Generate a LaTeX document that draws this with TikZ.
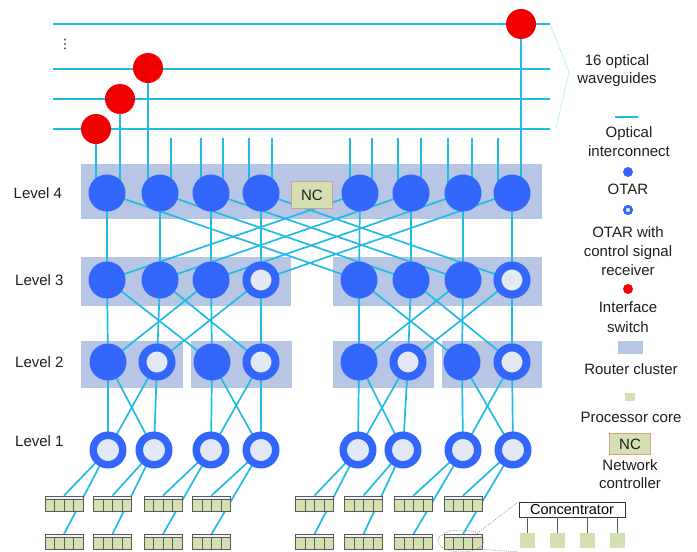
\documentclass[tikz,border=0pt]{standalone}
\usepackage{fontspec}
\setmainfont{Liberation Sans}
\newfontfamily\symfont{DejaVu Sans}
\usetikzlibrary{calc,shapes.geometric}
\definecolor{wirec}{HTML}{22BBE6}
\definecolor{otarb}{HTML}{3366FA}
\definecolor{ringin}{HTML}{E3E8F5}
\definecolor{clusc}{HTML}{B6C6E4}
\definecolor{redsw}{HTML}{F20000}
\definecolor{coreg}{HTML}{D5E0B2}
\definecolor{ncbd}{HTML}{D8A08C}
\definecolor{txt}{HTML}{1E1E1E}
\definecolor{bkgray}{HTML}{5A5A5A}
\definecolor{stripc}{HTML}{F4F4F4}
\pgfdeclarelayer{clusl}
\pgfdeclarelayer{wiresl}
\pgfsetlayers{clusl,wiresl,main}
\tikzset{
  wire/.style={draw=wirec, line width=1.7pt},
  guide/.style={draw=wirec, line width=2.8pt},
  otar/.style={circle, fill=otarb, minimum size=37pt, inner sep=0pt},
  otarr/.style={circle, draw=otarb, fill=ringin, line width=8pt, minimum size=29pt, inner sep=0pt},
  iswitch/.style={circle, fill=redsw, minimum size=30pt, inner sep=0pt},
  clusbox/.style={fill=clusc},
  ncbox/.style={rectangle, draw=ncbd, fill=coreg, line width=1pt, inner sep=0pt,
    minimum width=41.5pt, minimum height=26.5pt, font=\fontsize{15}{18}\selectfont, text=txt},
  pblock/.style={rectangle, draw=bkgray, fill=coreg, line width=0.8pt,
    minimum width=38pt, minimum height=15pt, inner sep=0pt,
    path picture={
      \fill[stripc] ([xshift=-19pt,yshift=7.5pt]path picture bounding box.center) rectangle ([xshift=19pt,yshift=4.5pt]path picture bounding box.center);
      \draw[bkgray, line width=0.7pt] ([xshift=-19pt,yshift=4.5pt]path picture bounding box.center) -- ([xshift=19pt,yshift=4.5pt]path picture bounding box.center);
      \foreach \dx in {-9.5,0,9.5} {
        \draw[bkgray, line width=0.7pt] ([xshift=\dx pt,yshift=4.5pt]path picture bounding box.center) -- ([xshift=\dx pt,yshift=-7.5pt]path picture bounding box.center);
      }
    }},
  lbl/.style={font=\fontsize{15}{19}\selectfont, text=txt, align=center, anchor=base, inner sep=0pt},
  lvl/.style={font=\fontsize{15}{19}\selectfont, text=txt, anchor=base west, inner sep=0pt},
  zoomline/.style={draw=gray, line width=0.5pt, dash pattern=on 1pt off 1.2pt}
}
\begin{document}
\begin{tikzpicture}[x=1pt,y=-1pt]
\useasboundingbox (0,0) rectangle (697,552);

% ---------- router cluster backgrounds ----------
\begin{pgfonlayer}{clusl}
  \fill[clusbox] (81,164) rectangle (542,219);
  \fill[clusbox] (81,257) rectangle (291,306);
  \fill[clusbox] (333,257) rectangle (542,306);
  \fill[clusbox] (81,341) rectangle (183,388);
  \fill[clusbox] (191,341) rectangle (292,388);
  \fill[clusbox] (333,341) rectangle (434,388);
  \fill[clusbox] (442,341) rectangle (542,388);
\end{pgfonlayer}

% ---------- Level 4 ----------
\foreach \n/\x in {1/107,2/160,3/211,4/261,5/360,6/411,7/463,8/512}
  \node[otar] (a\n) at (\x,193) {};
\node[ncbox] (nc) at (312,195) {NC};

% ---------- Level 3 ----------
\foreach \n/\x in {1/107,2/160,3/211,5/359,6/411,7/463}
  \node[otar] (b\n) at (\x,280) {};
\node[otarr] (b4) at (261,280) {};
\node[otarr] (b8) at (512,280) {};

% ---------- Level 2 ----------
\foreach \n/\x in {1/108,3/212,5/359,7/462}
  \node[otar] (c\n) at (\x,362) {};
\foreach \n/\x in {2/157,4/261,6/408,8/512}
  \node[otarr] (c\n) at (\x,362) {};

% ---------- Level 1 ----------
\foreach \n/\x in {1/108,2/154,3/211,4/261,5/358,6/403,7/463,8/513}
  \node[otarr, line width=7.5pt, minimum size=29.5pt] (d\n) at (\x,450) {};

% ---------- processor blocks ----------
\foreach \n/\x in {1/64,2/112.5,3/163,4/211.5,5/314.5,6/363.5,7/413.5,8/463} {
  \node[pblock] (p\n) at (\x,503.5) {};
  \node[pblock] (q\n) at (\x,542) {};
}

% ---------- waveguides and interface switches ----------
\coordinate (w1l) at (53,24);  \coordinate (w1r) at (550,24);
\coordinate (w2l) at (53,69);  \coordinate (w2r) at (550,69);
\coordinate (w3l) at (53,99);  \coordinate (w3r) at (550,99);
\coordinate (w4l) at (53,129); \coordinate (w4r) at (550,129);
\node[iswitch] (r1) at (96,129) {};
\node[iswitch] (r2) at (120,99) {};
\node[iswitch] (r3) at (148,68) {};
\node[iswitch] (r4) at (521,24) {};
\node[font=\symfont\fontsize{13}{13}\selectfont, text=txt, inner sep=0pt] (vdots) at (65,44) {⋮};

% stub tops
\foreach \n/\x in {1/171,2/201,3/223,4/249,5/272,6/350,7/372,8/398,9/421,10/448,11/472,12/498}
  \coordinate (s\n) at (\x,138);

\begin{pgfonlayer}{wiresl}
  \draw[guide] (w1l) -- (w1r);
  \draw[guide] (w2l) -- (w2r);
  \draw[guide] (w3l) -- (w3r);
  \draw[guide] (w4l) -- (w4r);
  % switches to level 4
  \draw[wire] (r1.center) -- (r1 |- a1);
  \draw[wire] (r2.center) -- (r2 |- a1);
  \draw[wire] (r3.center) -- (r3 |- a2);
  \draw[wire] (r4.center) -- (r4 |- a8);
  % stubs
  \draw[wire] (s1) -- (s1 |- a2);
  \draw[wire] (s2) -- (s2 |- a3);
  \draw[wire] (s3) -- (s3 |- a3);
  \draw[wire] (s4) -- (s4 |- a4);
  \draw[wire] (s5) -- (s5 |- a4);
  \draw[wire] (s6) -- (s6 |- a5);
  \draw[wire] (s7) -- (s7 |- a5);
  \draw[wire] (s8) -- (s8 |- a6);
  \draw[wire] (s9) -- (s9 |- a6);
  \draw[wire] (s10) -- (s10 |- a7);
  \draw[wire] (s11) -- (s11 |- a7);
  \draw[wire] (s12) -- (s12 |- a8);
  % level 4 -> level 3
  \foreach \i in {1,...,8} \draw[wire] (a\i.center) -- (b\i.center);
  \foreach \i/\j in {1/5,2/6,3/7,4/8,5/1,6/2,7/3,8/4} \draw[wire] (a\i.center) -- (b\j.center);
  % level 3 -> level 2
  \foreach \i in {1,...,8} \draw[wire] (b\i.center) -- (c\i.center);
  \foreach \i/\j in {1/3,2/4,3/1,4/2,5/7,6/8,7/5,8/6} \draw[wire] (b\i.center) -- (c\j.center);
  % level 2 -> level 1
  \foreach \i in {1,...,8} \draw[wire] (c\i.center) -- (d\i.center);
  \foreach \i/\j in {1/2,2/1,3/4,4/3,5/6,6/5,7/8,8/7} \draw[wire] (c\i.center) -- (d\j.center);
  % level 1 -> processor blocks
  \foreach \i in {1,...,8} {
    \draw[wire] (d\i.center) -- (p\i.north);
    \draw[wire] (d\i.center) -- (q\i.north);
  }
  % bracket of waveguides
  \coordinate (brk) at (569,72);
  \coordinate (brkb) at (556,128);
  \draw[draw=wirec!70, line width=0.5pt, dash pattern=on 1pt off 1pt] (w1r) -- (brk) -- (brkb);
\end{pgfonlayer}

% ---------- level labels ----------
\node[lvl] (lv4) at (13.5,198) {Level 4};
\node[lvl] (lv3) at (15,285) {Level 3};
\node[lvl] (lv2) at (15,367) {Level 2};
\node[lvl] (lv1) at (15,446) {Level 1};

% ---------- legend (base anchor = baseline of last line) ----------
\node[lbl, font=\fontsize{15}{18.3}\selectfont] (twg) at (617,83.8) {16 optical\\waveguides};
\coordinate (lg1) at (615,117); \coordinate (lg2) at (638,117);
\draw[guide] (lg1) -- (lg2);
\node[lbl] (toi) at (629,156.5) {Optical\\interconnect};
\node[circle, fill=otarb, minimum size=10pt, inner sep=0pt] (lotar) at (628,172) {};
\node[lbl] (totar) at (628,194.5) {OTAR};
\node[circle, draw=otarb, fill=ringin, line width=2.6pt, minimum size=7.4pt, inner sep=0pt] (lring) at (628,210) {};
\node[lbl] (tring) at (628,275.5) {OTAR with\\control signal\\receiver};
\node[circle, fill=redsw, minimum size=10pt, inner sep=0pt] (lred) at (628,289) {};
\node[lbl, font=\fontsize{15}{20}\selectfont] (tred) at (628,332.5) {Interface\\switch};
\node[rectangle, fill=clusc, minimum width=25pt, minimum height=13pt, inner sep=0pt] (lclus) at (630.5,347.5) {};
\node[lbl] (tclus) at (631,374.5) {Router cluster};
\node[rectangle, fill=coreg, minimum width=10pt, minimum height=8pt, inner sep=0pt] (lcore) at (630,396.5) {};
\node[lbl] (tcore) at (631,422.5) {Processor core};
\node[ncbox, minimum height=20.5pt] (lnc) at (630,444) {NC};
\node[lbl, font=\fontsize{15}{18}\selectfont] (tnc) at (630,488.5) {Network\\controller};

% ---------- concentrator detail ----------
\node[rectangle, draw=black!80, fill=white, line width=0.8pt, minimum width=106pt, minimum height=15pt,
      inner sep=0pt, font=\fontsize{14.5}{15}\selectfont, text=black] (conc) at (572,509.5) {Concentrator};
\foreach \n/\x in {1/527,2/557,3/587,4/617} {
  \node[rectangle, fill=coreg, minimum width=15pt, minimum height=15pt, inner sep=0pt] (k\n) at (\x,540.5) {};
  \draw[draw=bkgray, line width=0.9pt] (conc.south -| k\n) -- (k\n.north);
}
\node[ellipse, draw=gray, line width=0.5pt, dash pattern=on 1.2pt off 1.2pt,
      minimum width=46pt, minimum height=22pt, inner sep=0pt] (zoomel) at (461,541) {};
\coordinate (zlow) at (519,552);
\draw[zoomline] (zoomel.north east) -- (conc.north west);
\draw[zoomline] (zoomel.south east) -- (zlow);
\end{tikzpicture}
\end{document}
